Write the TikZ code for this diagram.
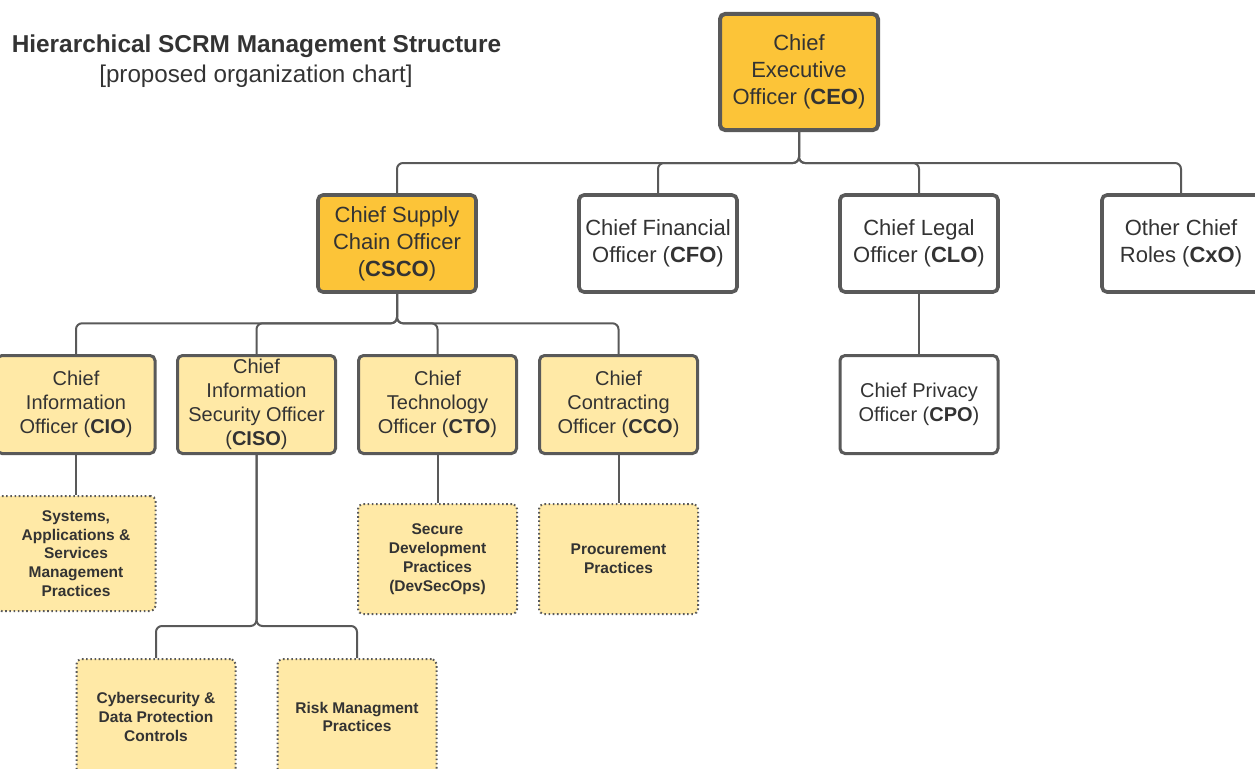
\documentclass[tikz,border=0pt]{standalone}
\usepackage{fontspec}
\setmainfont{Liberation Sans}
\definecolor{linec}{HTML}{595959}
\definecolor{txt}{HTML}{333333}
\definecolor{darkfill}{HTML}{FCC438}
\definecolor{lightfill}{HTML}{FFE9A6}
\tikzset{
  box/.style={draw=linec, rounded corners=5pt, align=center, text=txt, inner sep=2pt},
  topbox/.style={box, line width=4pt, minimum width=158pt, minimum height=116pt, font=\fontsize{22}{27}\selectfont},
  secbox/.style={box, line width=3.6pt, minimum width=158pt, minimum height=97pt, font=\fontsize{22}{27}\selectfont},
  thirdbox/.style={box, line width=3pt, minimum width=158pt, minimum height=98pt, font=\fontsize{20}{24}\selectfont},
  practice/.style={box, line width=2pt, dash pattern=on 1.6pt off 2.6pt, fill=lightfill, minimum width=159pt, font=\bfseries\fontsize{15.5}{18.8}\selectfont},
  conn/.style={draw=linec, line width=2pt, rounded corners=6pt},
}
\begin{document}
\begin{tikzpicture}[x=1pt, y=-1pt]
\useasboundingbox (0,0) rectangle (1255,768);

\node[font=\bfseries\fontsize{24.4}{29}\selectfont, text=txt] (title) at (256.5,46) {Hierarchical SCRM Management Structure};
\node[font=\fontsize{24.2}{29}\selectfont, text=txt] (subtitle) at (256,76) {[proposed organization chart]};

\node[topbox, fill=darkfill] (ceo) at (799,72) {Chief\\Executive\\Officer (\textbf{CEO})};

\node[secbox, fill=darkfill] (csco) at (397,243.5) {Chief Supply\\Chain Officer\\(\textbf{CSCO})};
\node[secbox, fill=white] (cfo) at (658,243.5) {Chief Financial\\Officer (\textbf{CFO})};
\node[secbox, fill=white] (clo) at (919,243.5) {Chief Legal\\Officer (\textbf{CLO})};
\node[secbox, fill=white] (cxo) at (1181,243.5) {Other Chief\\Roles (\textbf{CxO})};

\node[thirdbox, fill=lightfill] (cio) at (76,404.5) {Chief\\Information\\Officer (\textbf{CIO})};
\node[thirdbox, fill=lightfill] (ciso) at (256.5,404.5) {Chief\\Information\\Security Officer\\(\textbf{CISO})};
\node[thirdbox, fill=lightfill] (cto) at (437.5,404.5) {Chief\\Technology\\Officer (\textbf{CTO})};
\node[thirdbox, fill=lightfill] (cco) at (618.5,404.5) {Chief\\Contracting\\Officer (\textbf{CCO})};
\node[thirdbox, fill=white] (cpo) at (919,404.5) {Chief Privacy\\Officer (\textbf{CPO})};

\node[practice, minimum height=115pt] (sys) at (76,553.5) {Systems,\\Applications \&\\Services\\Management\\Practices};
\node[practice, minimum height=110pt] (sdp) at (437.5,559) {Secure\\Development\\Practices\\(DevSecOps)};
\node[practice, minimum height=110pt] (proc) at (618.5,559) {Procurement\\Practices};
\node[practice, minimum height=116pt] (cyber) at (156,717) {Cybersecurity \&\\Data Protection\\Controls};
\node[practice, minimum height=116pt] (risk) at (357,717) {Risk Managment\\Practices};

\foreach \c in {csco,cfo,clo,cxo}
  \draw[conn] (ceo.south) -- ++(0,31) -| (\c.north);
\foreach \c in {cio,ciso,cto,cco}
  \draw[conn] (csco.south) -- ++(0,29.5) -| (\c.north);
\draw[conn] (clo.south) -- (cpo.north);
\draw[conn] (cio.south) -- (sys.north);
\draw[conn] (cto.south) -- (sdp.north);
\draw[conn] (cco.south) -- (proc.north);
\foreach \c in {cyber,risk}
  \draw[conn] (ciso.south) -- ++(0,171) -| (\c.north);
\end{tikzpicture}
\end{document}
